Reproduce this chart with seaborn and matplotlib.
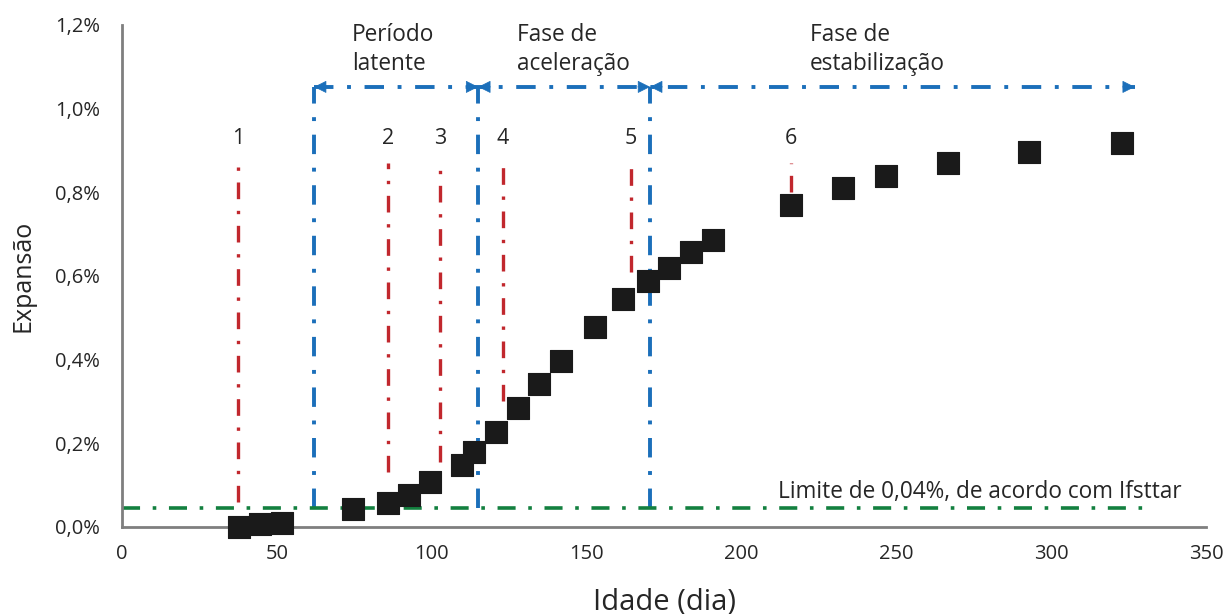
import matplotlib
matplotlib.use("Agg")
import matplotlib.pyplot as plt
import seaborn as sns
import pandas as pd

# ---- data ----
idade = [37.9, 44.6, 51.7, 74.7, 86.0, 92.8, 99.5, 109.7, 113.7, 120.8, 127.8,
         134.7, 141.8, 152.7, 161.7, 169.8, 176.7, 183.7, 190.8, 216.0, 232.9,
         246.7, 266.8, 292.9, 322.8]
expansao = [0.000, 0.007, 0.009, 0.043, 0.058, 0.076, 0.108, 0.148, 0.180, 0.226, 0.284,
            0.343, 0.397, 0.478, 0.546, 0.589, 0.620, 0.657, 0.685, 0.769, 0.811,
            0.838, 0.869, 0.896, 0.917]

marcos_x = [37.5, 85.9, 102.7, 123.0, 164.3, 216.0]
marcos_rotulo = ["1", "2", "3", "4", "5", "6"]
marcos_fundo = [0.060, 0.131, 0.155, 0.300, 0.610, 0.800]
marcos_topo = 0.87

fases_limites = [62.0, 115.0, 170.5, 327.0]
fases_nomes = ["Período\nlatente", "Fase de\naceleração", "Fase de\nestabilização"]
fases_texto_x = [74.3, 127.5, 222.0]
fase_y = 1.052

limite = 0.045
limite_fim = 332.0
limite_texto = "Limite de 0,04%, de acordo com Ifsttar"

xticks = [0, 50, 100, 150, 200, 250, 300, 350]
yticks = [0.0, 0.2, 0.4, 0.6, 0.8, 1.0, 1.2]
ytick_labels = ["0,0%", "0,2%", "0,4%", "0,6%", "0,8%", "1,0%", "1,2%"]

# ---- style ----
sns.set_style("white")
plt.rcParams["font.family"] = ["Open Sans", "DejaVu Sans"]

RED = "#c1272d"
BLUE = "#1b6fba"
GREEN = "#13803f"
TXT = "#262626"
DASH = (0, (5, 3.5, 1, 3.5))

fig = plt.figure(figsize=(12.29, 6.14), dpi=100)
ax = fig.add_axes([0.0993, 0.1417, 0.8820, 0.8176])

# red marker lines
for x, b, lab in zip(marcos_x, marcos_fundo, marcos_rotulo):
    ax.plot([x, x], [b, marcos_topo], color=RED, lw=2.4, linestyle=DASH, zorder=2)
    ax.text(x, 0.928, lab, ha="center", va="center", fontsize=15.5, color=TXT)

# blue phase lines
for x in fases_limites[:3]:
    ax.plot([x, x], [limite, fase_y], color=BLUE, lw=2.8, linestyle=DASH, zorder=2)
ax.plot([fases_limites[0], fases_limites[-1]], [fase_y, fase_y], color=BLUE,
        lw=2.8, linestyle=DASH, zorder=2)
for a, b in zip(fases_limites[:-1], fases_limites[1:]):
    for tip, tail in ((a, a + 4), (b, b - 4)):
        ax.annotate("", xy=(tip, fase_y), xytext=(tail, fase_y),
                    arrowprops=dict(arrowstyle="-|>", color=BLUE, lw=0.5,
                                    mutation_scale=20, shrinkA=0, shrinkB=0))
for x, name in zip(fases_texto_x, fases_nomes):
    ax.text(x, 1.141, name, ha="left", va="center", fontsize=16.3, color=TXT,
            linespacing=1.25)

# green limit
ax.plot([0, limite_fim], [limite, limite], color=GREEN, lw=2.6, linestyle=DASH, zorder=2)
ax.text(211.8, 0.084, limite_texto, ha="left", va="center", fontsize=16.3, color=TXT)

# data points
df = pd.DataFrame({"Idade": idade, "Expansao": expansao})
sns.scatterplot(data=df, x="Idade", y="Expansao", marker="s", s=240, color="#1a1a1a",
                edgecolor="#1a1a1a", linewidth=0.8, ax=ax, zorder=5, clip_on=False)

ax.set_xlim(0, 350)
ax.set_ylim(0, 1.2)
ax.set_xticks(xticks)
ax.set_xticklabels([str(t) for t in xticks])
ax.set_yticks(yticks)
ax.set_yticklabels(ytick_labels)
ax.tick_params(axis="both", length=0, labelsize=14.5, colors=TXT)
ax.tick_params(axis="y", pad=16)
ax.tick_params(axis="x", pad=12)
for s in ("top", "right"):
    ax.spines[s].set_visible(False)
for s in ("left", "bottom"):
    ax.spines[s].set_color("#7f7f7f")
    ax.spines[s].set_linewidth(2)
ax.set_xlabel("Idade (dia)", fontsize=21, color=TXT, labelpad=17)
ax.set_ylabel("Expansão", fontsize=18, color=TXT, labelpad=14)

fig.savefig("out.png", dpi=100)
